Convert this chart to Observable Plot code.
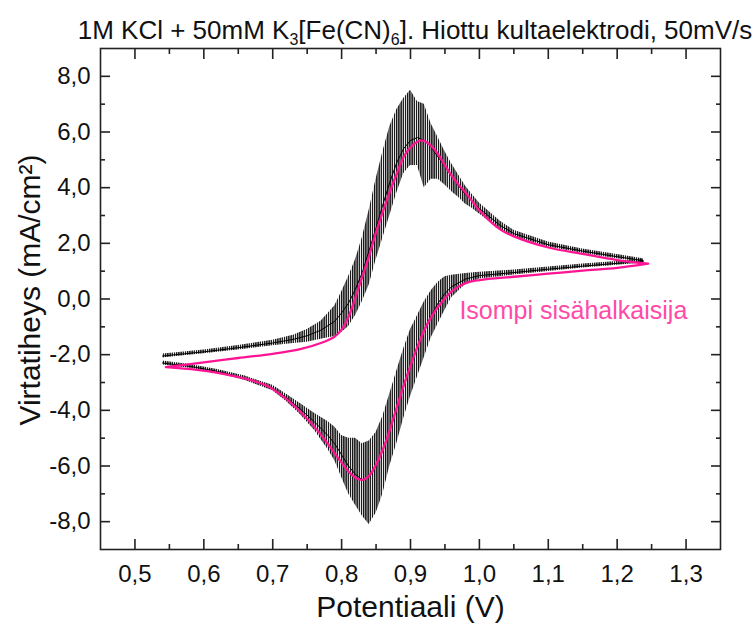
<!DOCTYPE html>
<html><head><meta charset="utf-8">
<script src="https://cdn.jsdelivr.net/npm/d3@7"></script>
<script src="https://cdn.jsdelivr.net/npm/@observablehq/plot@0.6"></script>
<style>
body{margin:0;background:#fff;font-family:"Liberation Sans",Arial,sans-serif;}
#wrap{width:755px;}
#title{height:44px;box-sizing:border-box;padding-top:17px;padding-left:75px;text-align:center;font-size:26px;line-height:1;white-space:nowrap;color:#111;overflow:visible;}
.s{font-size:16px;position:relative;top:6px;}
</style></head><body>
<div id="wrap"><div id="title">1M KCl + 50mM K<span class="s">3</span>[Fe(CN)<span class="s">6</span>]. Hiottu kultaelektrodi, 50mV/s</div><div id="chart"></div></div>
<script>
// ---- data ----
// pink (smooth) trace, forward (anodic) sweep
const pinkFwdV = [0.545,0.600,0.650,0.700,0.740,0.770,0.790,0.800,0.810,0.820,0.830,0.840,0.850,0.860,0.870,0.880,0.890,0.900,0.910,0.915,0.920,0.930,0.940,0.950,0.960,0.970,0.980,0.990,1.000,1.030,1.050,1.100,1.150,1.200,1.245];
const pinkFwdI = [-2.45,-2.28,-2.12,-1.97,-1.80,-1.58,-1.35,-1.10,-0.65,0.05,0.80,1.55,2.40,3.15,3.85,4.50,5.10,5.45,5.65,5.70,5.68,5.50,5.20,4.80,4.42,4.10,3.82,3.50,3.18,2.50,2.25,1.85,1.62,1.40,1.27];
// pink reverse (cathodic) sweep
const pinkRevV = [1.245,1.200,1.150,1.100,1.050,1.000,0.980,0.960,0.950,0.940,0.930,0.920,0.910,0.900,0.890,0.880,0.870,0.860,0.850,0.840,0.830,0.820,0.810,0.800,0.790,0.780,0.765,0.740,0.720,0.690,0.640,0.590,0.545];
const pinkRevI = [1.27,1.12,1.02,0.91,0.80,0.68,0.57,0.28,0.02,-0.28,-0.65,-1.12,-1.72,-2.40,-3.12,-3.90,-4.70,-5.40,-5.95,-6.35,-6.50,-6.42,-6.20,-5.88,-5.55,-5.20,-4.72,-4.05,-3.60,-3.10,-2.75,-2.55,-2.45];
// black (noisy) trace: centre and noise envelope, forward sweep
const blackFwdV  = [0.540,0.560,0.600,0.650,0.700,0.730,0.750,0.770,0.790,0.800,0.810,0.820,0.830,0.840,0.850,0.860,0.870,0.880,0.890,0.900,0.910,0.920,0.930,0.940,0.950,0.960,0.970,0.980,0.990,1.000,1.030,1.050,1.100,1.150,1.200,1.238];
const blackFwdI  = [-2.05,-2.00,-1.90,-1.75,-1.58,-1.45,-1.32,-1.12,-0.80,-0.50,-0.15,0.35,0.95,1.75,2.55,3.40,4.20,4.90,5.40,5.70,5.80,5.70,5.45,5.10,4.75,4.40,4.05,3.75,3.50,3.25,2.65,2.35,1.95,1.72,1.52,1.38];
const blackFwdLo = [-2.12,-2.07,-1.97,-1.83,-1.68,-1.60,-1.55,-1.45,-1.35,-1.20,-1.00,-0.60,-0.10,0.50,1.40,2.20,3.00,3.80,4.50,4.80,4.80,4.00,4.30,4.30,4.10,3.85,3.65,3.40,3.25,3.05,2.50,2.25,1.87,1.64,1.45,1.32];
const blackFwdHi = [-1.98,-1.93,-1.83,-1.67,-1.48,-1.30,-1.10,-0.80,-0.25,0.25,0.80,1.40,2.20,3.20,4.30,5.30,6.20,6.80,7.20,7.50,7.10,7.00,6.30,5.80,5.30,4.85,4.45,4.05,3.75,3.45,2.80,2.47,2.05,1.80,1.60,1.45];
// black reverse sweep
const blackRevV  = [1.238,1.200,1.150,1.100,1.050,1.000,0.980,0.960,0.950,0.940,0.930,0.920,0.910,0.900,0.890,0.880,0.870,0.860,0.850,0.840,0.830,0.820,0.810,0.800,0.790,0.780,0.760,0.740,0.720,0.700,0.660,0.620,0.580,0.540];
const blackRevI  = [1.35,1.28,1.18,1.07,0.95,0.84,0.72,0.45,0.20,-0.15,-0.60,-1.10,-1.70,-2.35,-3.10,-3.90,-4.70,-5.40,-6.00,-6.40,-6.50,-6.30,-6.00,-5.60,-5.20,-4.90,-4.40,-3.95,-3.55,-3.20,-2.85,-2.60,-2.42,-2.30];
const blackRevLo = [1.29,1.21,1.11,0.99,0.86,0.72,0.52,0.05,-0.40,-0.90,-1.40,-2.10,-2.80,-3.50,-4.30,-5.20,-6.00,-7.00,-7.70,-8.10,-7.80,-7.40,-7.00,-6.40,-5.80,-5.40,-4.70,-4.15,-3.68,-3.30,-2.93,-2.67,-2.49,-2.37];
const blackRevHi = [1.42,1.35,1.26,1.15,1.04,0.96,0.92,0.85,0.80,0.60,0.30,-0.10,-0.60,-1.10,-1.80,-2.60,-3.40,-4.20,-4.80,-5.10,-5.20,-5.00,-5.00,-4.90,-4.60,-4.40,-4.10,-3.75,-3.42,-3.10,-2.77,-2.53,-2.35,-2.23];
// axis ticks
const xMajor = [0.5,0.6,0.7,0.8,0.9,1.0,1.1,1.2,1.3];
const xMinor = [0.55,0.65,0.75,0.85,0.95,1.05,1.15,1.25];
const yMajor = [-8,-6,-4,-2,0,2,4,6,8];
const yMinor = [-7,-5,-3,-1,1,3,5,7];
// annotation
const noteText = ["Isompi sisähalkaisija"];
const noteV = [0.971];
const noteI = [-0.44];

// ---- tables ----
const pink = [
  ...pinkFwdV.map((v,i)=>({V:v, I:pinkFwdI[i]})),
  ...pinkRevV.map((v,i)=>({V:v, I:pinkRevI[i]}))
];
const black = [
  ...blackFwdV.map((v,i)=>({V:v, I:blackFwdI[i]})),
  ...blackRevV.map((v,i)=>({V:v, I:blackRevI[i]}))
];
const band = [
  ...blackFwdV.map((v,i)=>({V:v, lo:blackFwdLo[i], hi:blackFwdHi[i], b:"f"})),
  ...blackRevV.map((v,i)=>({V:v, lo:blackRevLo[i], hi:blackRevHi[i], b:"r"}))
];
const notes = noteText.map((t,i)=>({t, V:noteV[i], I:noteI[i]}));

const fmt = d => d.toFixed(1).replace(".", ",");
const blank = () => "";
const tk = {stroke:"#222", strokeWidth:1.6, tickFormat:blank, label:null};

const chart = Plot.plot({
  width: 755,
  height: 580,
  marginTop: 4,
  marginBottom: 75,
  marginLeft: 100,
  marginRight: 35,
  style: {fontFamily:"'Liberation Sans', Arial, sans-serif", background:"#fff", color:"#111", overflow:"visible"},
  x: {domain:[0.45,1.35], axis:null},
  y: {domain:[-9,9], axis:null},
  marks: [
    Plot.areaY(band, {x:"V", y1:"lo", y2:"hi", z:"b", fill:"url(#noise)"}),
    Plot.line(black, {x:"V", y:"I", stroke:"#000", strokeWidth:1}),
    Plot.line(pink, {x:"V", y:"I", stroke:"#ff1493", strokeWidth:2.3, curve:"catmull-rom"}),
    Plot.text(notes, {x:"V", y:"I", text:"t", textAnchor:"start", fill:"#ff4aa8", fontSize:25}),
    Plot.axisX(xMajor, {...tk, anchor:"bottom", tickSize:-10}),
    Plot.axisX(xMinor, {...tk, anchor:"bottom", tickSize:-5}),
    Plot.axisX(xMajor, {...tk, anchor:"top", tickSize:-10}),
    Plot.axisX(xMinor, {...tk, anchor:"top", tickSize:-5}),
    Plot.axisY(yMajor, {...tk, anchor:"left", tickSize:-10}),
    Plot.axisY(yMinor, {...tk, anchor:"left", tickSize:-5}),
    Plot.axisY(yMajor, {...tk, anchor:"right", tickSize:-10}),
    Plot.axisY(yMinor, {...tk, anchor:"right", tickSize:-5}),
    Plot.axisX(xMajor, {anchor:"bottom", tickSize:0, tickPadding:15, tickFormat:fmt, fontSize:24, label:null}),
    Plot.axisY(yMajor, {anchor:"left", tickSize:0, tickPadding:10, tickFormat:fmt, fontSize:24, label:null}),
    Plot.frame({stroke:"#222", strokeWidth:1.6}),
    Plot.text(["Potentiaali (V)"], {frameAnchor:"bottom", text:d=>d, dy:58, lineAnchor:"middle", textAnchor:"middle", fontSize:30}),
    Plot.text(["Virtatiheys (mA/cm²)"], {frameAnchor:"left", text:d=>d, rotate:-90, dx:-70, dy:-9, textAnchor:"middle", lineAnchor:"middle", fontSize:30})
  ]
});

// hatch pattern imitating the dense noise of the black trace
const ns = "http://www.w3.org/2000/svg";
const defs = document.createElementNS(ns, "defs");
const pat = document.createElementNS(ns, "pattern");
pat.setAttribute("id", "noise");
pat.setAttribute("patternUnits", "userSpaceOnUse");
pat.setAttribute("width", "2.2");
pat.setAttribute("height", "8");
const pth = document.createElementNS(ns, "path");
pth.setAttribute("d", "M0.7,0V8");
pth.setAttribute("stroke", "#000");
pth.setAttribute("stroke-width", "1.3");
pat.appendChild(pth);
defs.appendChild(pat);
chart.insertBefore(defs, chart.firstChild);

document.getElementById("chart").appendChild(chart);
</script></body></html>
